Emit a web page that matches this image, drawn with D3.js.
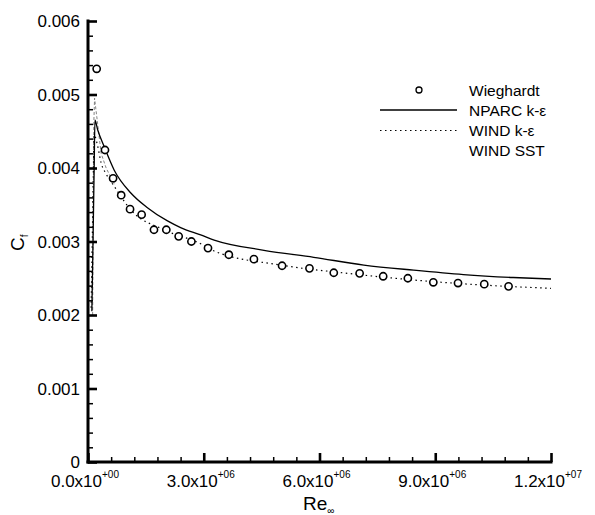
<!DOCTYPE html>
<html>
<head>
<meta charset="utf-8">
<script src="https://cdn.jsdelivr.net/npm/d3@7"></script>
<style>
  html, body { margin: 0; padding: 0; background: #fff; }
  svg { display: block; font-family: "Liberation Sans", Arial, Helvetica, sans-serif; }
</style>
</head>
<body>
<svg id="chart" width="595" height="515"></svg>
<script>
// ---------- data ----------
const xTickValues = [0, 3e6, 6e6, 9e6, 12e6];
const xTickMantissa = ["0.0", "3.0", "6.0", "9.0", "1.2"];
const xTickExponent = ["+00", "+06", "+06", "+06", "+07"];
const yTickValues = [0, 0.001, 0.002, 0.003, 0.004, 0.005, 0.006];
const yTickLabels = ["0", "0.001", "0.002", "0.003", "0.004", "0.005", "0.006"];

const wieghardtRe = [0.225e6, 0.44e6, 0.65e6, 0.86e6, 1.09e6, 1.39e6, 1.71e6, 2.03e6, 2.35e6, 2.68e6, 3.11e6, 3.65e6,
                     4.30e6, 5.03e6, 5.74e6, 6.37e6, 7.04e6, 7.65e6, 8.29e6, 8.95e6, 9.59e6, 10.27e6, 10.9e6];
const wieghardtCf = [0.00535, 0.004245, 0.00386, 0.00363, 0.00344, 0.003365, 0.00316, 0.00316, 0.00307, 0.00300, 0.00291, 0.00282,
                     0.00276, 0.00267, 0.002635, 0.002575, 0.002567, 0.002527, 0.00250, 0.002445, 0.002435, 0.00242, 0.00239];

const nparcRe = [0.10e6, 0.13e6, 0.16e6, 0.18e6, 0.25e6, 0.42e6, 0.68e6, 1.11e6, 1.54e6, 2.06e6, 2.40e6, 2.92e6, 3.27e6,
                 4.56e6, 5.85e6, 7.15e6, 8.44e6, 9.73e6, 11.02e6, 12.0e6];
const nparcCf = [0.00205, 0.0030, 0.0040, 0.00465, 0.00452, 0.00429, 0.00397, 0.00366, 0.00346, 0.00328, 0.00319, 0.00309, 0.00302,
                 0.00288, 0.002785, 0.00268, 0.00261, 0.00255, 0.00251, 0.00249];

const windKeRe = [0.08e6, 0.11e6, 0.14e6, 0.16e6, 0.25e6, 0.34e6, 0.47e6, 0.68e6, 1.11e6, 1.97e6, 2.92e6, 3.27e6,
                  4.99e6, 6.72e6, 8.44e6, 10.16e6, 12.0e6];
const windKeCf = [0.0021, 0.0030, 0.0040, 0.00445, 0.0043, 0.00407, 0.00392, 0.00375, 0.00343, 0.00316, 0.00297, 0.00287,
                  0.00268, 0.002567, 0.002476, 0.00241, 0.002363];

const windSstRe = [0.12e6, 0.13e6, 0.14e6, 0.15e6, 0.17e6, 0.25e6, 0.34e6, 0.47e6, 0.68e6];
const windSstCf = [0.0020, 0.0028, 0.0038, 0.0046, 0.00495, 0.0046, 0.0042, 0.0040, 0.00378];

// ---------- layout ----------
const svg = d3.select("#chart");
const x = d3.scaleLinear().domain([0, 12e6]).range([88, 551]);
const y = d3.scaleLinear().domain([0, 0.006]).range([462, 21]);

const zip = (a, b) => a.map((v, i) => [v, b[i]]);
const lineLin = d3.line().x(d => x(d[0])).y(d => y(d[1]));
const lineSmooth = d3.line().x(d => x(d[0])).y(d => y(d[1])).curve(d3.curveMonotoneX);

// ---------- series ----------
svg.append("path").datum(zip(windSstRe, windSstCf))
  .attr("d", lineLin).attr("fill", "none").attr("stroke", "#777")
  .attr("stroke-width", 0.9).attr("stroke-dasharray", "3,2");

svg.append("path").datum(zip(nparcRe, nparcCf))
  .attr("d", lineSmooth).attr("fill", "none").attr("stroke", "#000")
  .attr("stroke-width", 1.3);

svg.append("path").datum(zip(windKeRe, windKeCf))
  .attr("d", lineSmooth).attr("fill", "none").attr("stroke", "#000")
  .attr("stroke-width", 1.2).attr("stroke-dasharray", "1.5,3.5");

svg.append("g").selectAll("circle").data(zip(wieghardtRe, wieghardtCf)).join("circle")
  .attr("cx", d => x(d[0])).attr("cy", d => y(d[1])).attr("r", 3.6)
  .attr("fill", "#fff").attr("stroke", "#000").attr("stroke-width", 1.6);

// ---------- axes ----------
const xMinor = d3.range(0, 12e6 + 1, 0.6e6).filter(v => Math.round(v / 1e5) % 30 !== 0);
const yMinor = d3.range(0, 0.00601, 0.0002).filter(v => Math.round(v * 1e4) % 10 !== 0);

const xAxisMinor = svg.append("g").attr("transform", `translate(0,${y(0)})`)
  .call(d3.axisBottom(x).tickValues(xMinor).tickSize(-5).tickFormat(""));
const xAxisMajor = svg.append("g").attr("transform", `translate(0,${y(0)})`)
  .call(d3.axisBottom(x).tickValues(xTickValues).tickSize(-9).tickFormat("").tickSizeOuter(0));
const yAxisMinor = svg.append("g").attr("transform", `translate(${x(0)},0)`)
  .call(d3.axisLeft(y).tickValues(yMinor).tickSize(-5).tickFormat(""));
const yAxisMajor = svg.append("g").attr("transform", `translate(${x(0)},0)`)
  .call(d3.axisLeft(y).tickValues(yTickValues).tickSize(-9).tickFormat("").tickSizeOuter(0));

[xAxisMinor, yAxisMinor].forEach(g => {
  g.select(".domain").remove();
  g.selectAll("line").attr("stroke", "#000").attr("stroke-width", 1.5);
});
[xAxisMajor, yAxisMajor].forEach(g => {
  g.select(".domain").attr("stroke", "#000").attr("stroke-width", 3);
  g.selectAll("line").attr("stroke", "#000").attr("stroke-width", 2.6);
});
xAxisMajor.select(".domain").attr("d", `M${x(0) - 1.5},0H${x(12e6) + 1.5}`);
yAxisMajor.select(".domain").attr("d", `M0,${y(0.006) - 1.5}V${y(0) + 1.5}`);

// y tick labels
svg.append("g").selectAll("text").data(yTickValues).join("text")
  .attr("x", x(0) - 8).attr("y", d => y(d) + 6)
  .attr("text-anchor", "end").attr("font-size", 17).attr("fill", "#000")
  .text((d, i) => yTickLabels[i]);

// x tick labels with superscript exponent
const xl = svg.append("g").selectAll("text").data(xTickValues).join("text")
  .attr("x", d => x(d) - 3).attr("y", 487)
  .attr("text-anchor", "middle").attr("font-size", 17).attr("fill", "#000");
xl.append("tspan").text((d, i) => xTickMantissa[i] + "x10");
xl.append("tspan").attr("font-size", 10).attr("dy", -9).text((d, i) => xTickExponent[i]);

// axis titles
const xt = svg.append("text").attr("x", 303).attr("y", 510).attr("font-size", 19).attr("fill", "#000");
xt.append("tspan").text("Re");
xt.append("tspan").attr("font-size", 10).attr("dy", 4).text("∞");

const yt = svg.append("text").attr("transform", "translate(24,251) rotate(-90)")
  .attr("font-size", 19).attr("fill", "#000");
yt.append("tspan").text("C");
yt.append("tspan").attr("font-size", 10).attr("dy", 4).text("f");

// ---------- legend ----------
const lg = svg.append("g");
const legendItems = ["Wieghardt", "NPARC k-ε", "WIND k-ε", "WIND SST"];
lg.selectAll("text").data(legendItems).join("text")
  .attr("x", 469).attr("y", (d, i) => 96 + i * 20)
  .attr("font-size", 15.5).attr("fill", "#000").text(d => d);
lg.append("circle").attr("cx", 419).attr("cy", 90).attr("r", 3)
  .attr("fill", "#fff").attr("stroke", "#000").attr("stroke-width", 1.3);
lg.append("line").attr("x1", 380).attr("x2", 457).attr("y1", 110).attr("y2", 110)
  .attr("stroke", "#000").attr("stroke-width", 1.3);
lg.append("line").attr("x1", 380).attr("x2", 457).attr("y1", 130.5).attr("y2", 130.5)
  .attr("stroke", "#000").attr("stroke-width", 1.2).attr("stroke-dasharray", "1.5,3.5");
</script>
</body>
</html>
